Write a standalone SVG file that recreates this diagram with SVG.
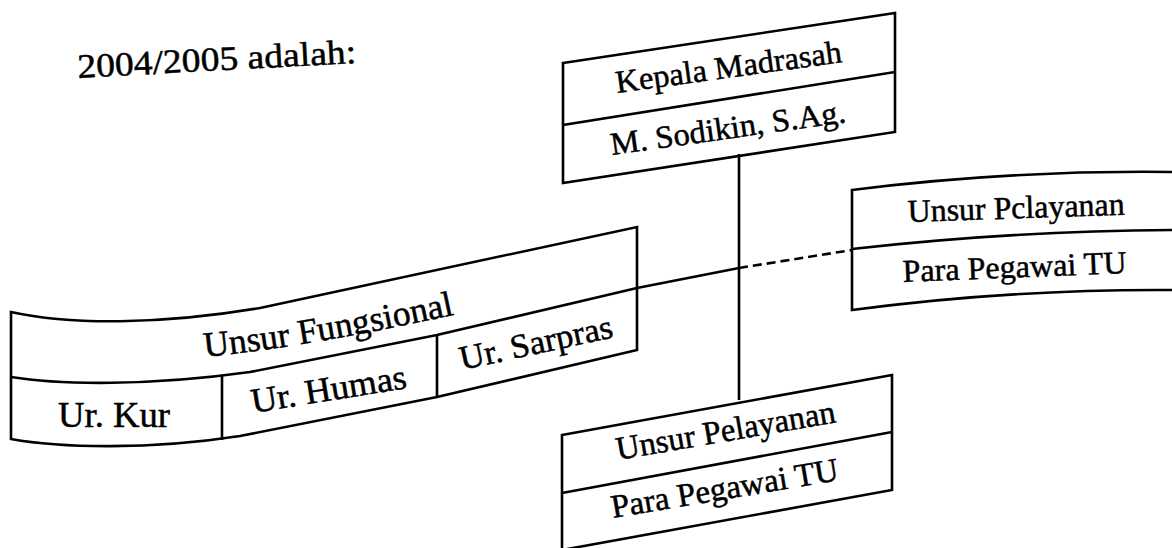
<svg xmlns="http://www.w3.org/2000/svg" width="1172" height="548" viewBox="0 0 1172 548">
<style>
.ln{fill:none;stroke:#000;stroke-width:2.6;stroke-linejoin:miter}
.dash{stroke-dasharray:9 5}
.t{font-family:"Liberation Serif","Times New Roman",serif;fill:#000;stroke:#000;stroke-width:0.5}
</style>
<defs>
<path id="pf" d="M205,357 Q300,348 453,315"/>
</defs>
<rect width="1172" height="548" fill="#fff"/>
<g id="title">
<text class="t" x="78" y="78" font-size="34" textLength="279" lengthAdjust="spacingAndGlyphs" transform="rotate(-3.1 78 78)">2004/2005 adalah:</text>
</g>
<g id="connectors">
<path class="ln" d="M637,288 L739,268"/>
<path class="ln" d="M739,154 L739,400"/>
<path class="ln dash" d="M739,268 L852,250"/>
</g>
<g id="kepala">
<path class="ln" d="M563,63 L895,13 L895,132 L563,183 Z"/>
<path class="ln" d="M563,125 L895,72"/>
<text class="t" x="617" y="93" font-size="32" textLength="228" lengthAdjust="spacingAndGlyphs" transform="rotate(-7.8 617 93)">Kepala Madrasah</text>
<text class="t" x="612" y="155" font-size="32" textLength="237" lengthAdjust="spacingAndGlyphs" transform="rotate(-8 612 155)">M. Sodikin, S.Ag.</text>
</g>
<g id="fungsional">
<path class="ln" d="M11,312 C70,325 160,325 260,308 L637,227 L637,350 L437,397 L240,436 C150,450 60,448 11,439 Z"/>
<path class="ln" d="M11,377 C60,385 150,386 250,372 L437,335 L637,288"/>
<path class="ln" d="M222,376 L222,440 M437,335 L437,397"/>
<text class="t" font-size="35.5"><textPath href="#pf">Unsur Fungsional</textPath></text>
<text class="t" x="58" y="427" font-size="36" textLength="112" lengthAdjust="spacingAndGlyphs">Ur. Kur</text>
<text class="t" x="253" y="413" font-size="35" textLength="157" lengthAdjust="spacingAndGlyphs" transform="rotate(-9.2 253 413)">Ur. Humas</text>
<text class="t" x="462" y="370" font-size="34" textLength="156" lengthAdjust="spacingAndGlyphs" transform="rotate(-12.2 462 370)">Ur. Sarpras</text>
</g>
<g id="pelayanan-kanan">
<path class="ln" d="M1172,172 Q1010,170 852,190 L852,310 Q1010,289 1172,290"/>
<path class="ln" d="M852,249 Q1010,231 1172,230"/>
<text class="t" x="908" y="222" font-size="32" textLength="217" lengthAdjust="spacingAndGlyphs" transform="rotate(-1.9 908 222)">Unsur Pclayanan</text>
<text class="t" x="903" y="282" font-size="32" textLength="224" lengthAdjust="spacingAndGlyphs" transform="rotate(-2.3 903 282)">Para Pegawai TU</text>
</g>
<g id="pelayanan-bawah">
<path class="ln" d="M562,435 L892,375 L892,490 L562,550 Z"/>
<path class="ln" d="M562,493 L892,432"/>
<text class="t" x="618" y="460" font-size="33" textLength="222" lengthAdjust="spacingAndGlyphs" transform="rotate(-9.8 618 460)">Unsur Pelayanan</text>
<text class="t" x="613" y="518" font-size="33" textLength="230" lengthAdjust="spacingAndGlyphs" transform="rotate(-9.5 613 518)">Para Pegawai TU</text>
</g>
</svg>
